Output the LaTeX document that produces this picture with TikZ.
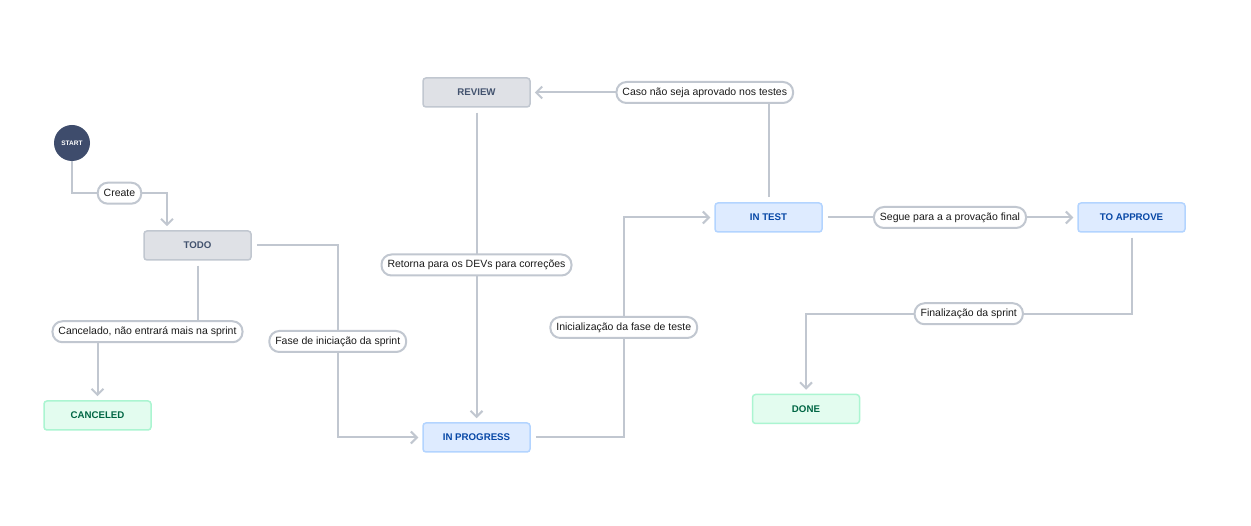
\documentclass[tikz,border=0pt]{standalone}
\usepackage{fontspec}
\setmainfont{Liberation Sans}
\usetikzlibrary{arrows.meta}
\definecolor{edgec}{HTML}{C1C7D0}
\definecolor{grayfill}{HTML}{DFE1E6}
\definecolor{grayline}{HTML}{C1C7D0}
\definecolor{graytext}{HTML}{42526E}
\definecolor{bluefill}{HTML}{DEEBFF}
\definecolor{blueline}{HTML}{B3D4FF}
\definecolor{bluetext}{HTML}{0747A6}
\definecolor{greenfill}{HTML}{E3FCEF}
\definecolor{greenline}{HTML}{ABF5D1}
\definecolor{greentext}{HTML}{006644}
\definecolor{startc}{HTML}{3E4C6C}
\definecolor{lbltext}{HTML}{1A1A1A}
\tikzset{
  statebox/.style={rectangle, minimum width=107pt, minimum height=29pt, inner sep=0pt,
    rounded corners=3pt, line width=1.5pt, font=\fontsize{9.7}{11}\selectfont\bfseries},
  graystate/.style={statebox, fill=grayfill, draw=grayline, text=graytext},
  bluestate/.style={statebox, fill=bluefill, draw=blueline, text=bluetext},
  greenstate/.style={statebox, fill=greenfill, draw=greenline, text=greentext},
  startnode/.style={circle, fill=startc, minimum size=36pt, inner sep=0pt, text=white,
    font=\fontsize{6.5}{7}\selectfont\bfseries},
  conn/.style={draw=edgec, line width=2pt, -{Straight Barb[length=6pt,width=12pt]},
    shorten >=4pt, shorten <=5pt},
  lbl/.style={rectangle, rounded corners=10pt, fill=white, draw=edgec, line width=2pt,
    minimum height=21pt, inner xsep=6pt, inner ysep=0pt, text=lbltext,
    font=\fontsize{10.5}{12.5}\selectfont},
}
\begin{document}
\begin{tikzpicture}[x=1pt,y=-1pt]
\useasboundingbox[fill=white] (0,0) rectangle (1251,526);

\node[startnode] (start) at (72,143) {START};
\node[graystate] (todo) at (197.5,245.5) {TODO};
\node[graystate] (review) at (476.5,92.5) {REVIEW};
\node[greenstate] (canceled) at (97.5,415.5) {CANCELED};
\node[bluestate] (inprog) at (476.5,437.5) {IN PROGRESS};
\node[bluestate] (intest) at (768.5,217.5) {IN TEST};
\node[bluestate] (toapprove) at (1131.5,217.5) {TO APPROVE};
\node[greenstate] (done) at (806,409) {DONE};

\draw[conn, shorten <=0pt] (start.south) -- ++(0,32) -| node[lbl,pos=0.25]{Create} ([xshift=-30.5pt]todo.north);
\draw[conn] (todo.south) -- ++(0,71) -| node[lbl,pos=0.25]{Cancelado, não entrará mais na sprint} (canceled.north);
\draw[conn] (todo.east) -- ++(86,0) |- node[lbl,pos=0.25]{Fase de iniciação da sprint} (inprog.west);
\draw[conn] (review.south) -- node[lbl]{Retorna para os DEVs para correções} (inprog.north);
\draw[conn] (inprog.east) -- ++(93,0) |- node[lbl,pos=0.25]{Inicialização da fase de teste} (intest.west);
\draw[conn] (intest.north) |- node[lbl,pos=0.634]{Caso não seja aprovado nos testes} (review.east);
\draw[conn] (intest.east) -- node[lbl]{Segue para a a provação final} (toapprove.west);
\draw[conn] (toapprove.south) -- ++(0,81) -| node[lbl,pos=0.25]{Finalização da sprint} (done.north);
\end{tikzpicture}
\end{document}
